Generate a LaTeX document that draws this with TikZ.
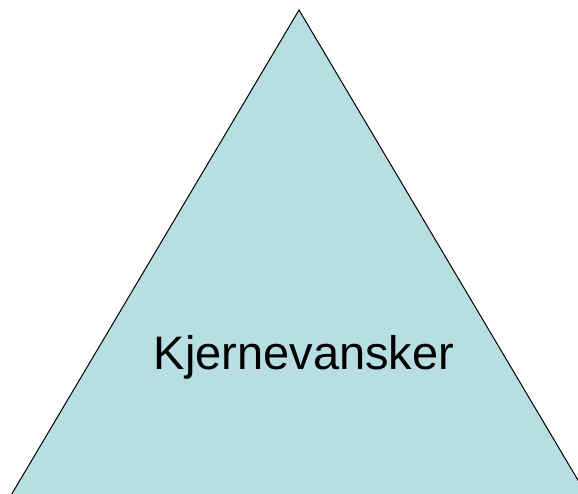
\documentclass[tikz,border=0pt]{standalone}
\usepackage{fontspec}
\setmainfont{Liberation Sans}
\definecolor{trifill}{RGB}{183,222,226}
\tikzset{tri/.style={fill=trifill,draw=black,line width=1pt,line join=miter}}
\begin{document}
\begin{tikzpicture}[x=1pt,y=-1pt]
\useasboundingbox (0,0) rectangle (578,493);
\clip (0,0) rectangle (578,493);
\coordinate (apex) at (299,10);
\coordinate (bl) at (10,497);
\coordinate (br) at (588,497);
\path[tri] (bl) -- (apex) -- (br) -- cycle;
\node[font=\fontsize{47}{51}\selectfont, inner sep=0pt, anchor=base] (lbl) at (304,369) {Kjernevansker};
\end{tikzpicture}
\end{document}
